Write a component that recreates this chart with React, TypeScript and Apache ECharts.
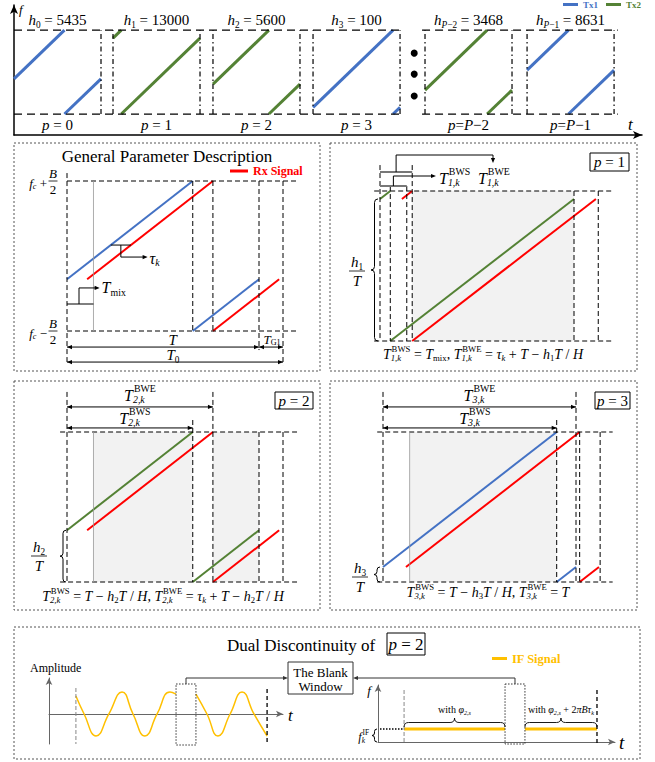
import React, { useEffect, useRef } from "react";
import * as echarts from "echarts";

const BLUE = "#4472C4";
const GREEN = "#548235";
const RED = "#FF0000";
const GOLD = "#FFC000";
const SERIF = "Liberation Serif, Times New Roman, serif";

// ---------------- data ----------------
// overview: P frames
const frameSub = ["0", "1", "2", "3", "P−2", "P−1"];
const frameH = [5435, 13000, 5600, 100, 3468, 8631];
const frameStart = [0, 1.138, 2.287, 3.437, 4.724, 5.897]; // in units of T
const frameStartFreq = [0.42, 0.905, 0.357, 0.08, 0.286, 0.524]; // fraction of B
const frameTx = ["Tx1", "Tx2", "Tx2", "Tx1", "Tx2", "Tx1"];

// detail panels: General, p=1, p=2, p=3
const panelStartFreq = [0.345, 0.947, 0.345, 0.1];
const panelDelay = [0.105, 0.113, 0.105, 0.119];
const panelTx = ["Tx1", "Tx2", "Tx2", "Tx1"];
const T_MIX = 0.138;
const T_0 = 1.125;

// dual discontinuity panel
const sineT1 = [1.15, 1.5, 2.01, 2.56, 3.12, 3.59, 4.1, 4.62, 5.17, 5.43];
const sineA1 = [0.82, 0, -1, 0, 1, 0, -1, 0, 1, 0.9];
const sineT2 = [6.28, 6.75, 7.22, 7.74, 8.25, 8.76, 9.32];
const sineA2 = [0.9, 0, -1, 0, 1, 0, -1];
const blankWinSine = [5.43, 6.28];
const ifSegStart = [1.1, 6.2];
const ifSegEnd = [5.36, 9.24];
const ifLevel = 1;
const blankWinIF = [5.36, 6.2];

// ---------------- layout ----------------
const GRIDS = [
  { left: 14, top: 5, width: 628, height: 130, x0: 0, x1: 7.218, y0: -0.25, y1: 1.3 },
  { left: 67, top: 181, width: 230.4, height: 150, x0: 0, x1: 1.2, y0: 0, y1: 1 },
  { left: 380, top: 191, width: 232.8, height: 150, x0: 0, x1: 1.2, y0: 0, y1: 1 },
  { left: 67, top: 432, width: 230.4, height: 150, x0: 0, x1: 1.2, y0: 0, y1: 1 },
  { left: 383, top: 432, width: 231.6, height: 150, x0: 0, x1: 1.2, y0: 0, y1: 1 },
  { left: 49, top: 678, width: 234, height: 66, x0: 0, x1: 10, y0: -1.364, y1: 1.636 },
  { left: 378, top: 685, width: 237, height: 57, x0: 0, x1: 10, y0: 0, y1: 4.385 },
];
const X = (g: number, t: number) => {
  const G = GRIDS[g];
  return G.left + ((t - G.x0) / (G.x1 - G.x0)) * G.width;
};
const Y = (g: number, f: number) => {
  const G = GRIDS[g];
  return G.top + ((G.y1 - f) / (G.y1 - G.y0)) * G.height;
};

let _ctx: any = null;
function tw(s: string, sz: number, it?: boolean, bd?: boolean) {
  if (!_ctx) _ctx = document.createElement("canvas").getContext("2d");
  _ctx.font = `${it ? "italic " : ""}${bd ? "bold " : ""}${sz}px "Liberation Serif", serif`;
  return _ctx.measureText(s).width;
}

const TX = (x: number, y: number, s: string, sz: number, it = false, bd = false, fill = "#000", align = "left") => ({
  type: "text",
  z: 6,
  x,
  y,
  silent: true,
  style: {
    text: s,
    fontSize: sz,
    fontFamily: SERIF,
    fontStyle: it ? "italic" : "normal",
    fontWeight: bd ? "bold" : "normal",
    fill,
    textAlign: align,
    textVerticalAlign: "middle",
    align,
    verticalAlign: "middle",
  },
});
const L = (x1: number, y1: number, x2: number, y2: number, stroke = "#000", lw = 1, dash?: number[]) => ({
  type: "line",
  z: 5,
  silent: true,
  shape: { x1, y1, x2, y2 },
  style: { stroke, lineWidth: lw, lineDash: dash || null },
});
const AH = (x: number, y: number, dir: string, s = 5, fill = "#000") => {
  const h = s * 0.42;
  let pts: number[][] = [];
  if (dir === "r") pts = [[x, y], [x - s, y - h], [x - s, y + h]];
  if (dir === "l") pts = [[x, y], [x + s, y - h], [x + s, y + h]];
  if (dir === "u") pts = [[x, y], [x - h, y + s], [x + h, y + s]];
  if (dir === "d") pts = [[x, y], [x - h, y - s], [x + h, y - s]];
  return { type: "polygon", z: 6, silent: true, shape: { points: pts }, style: { fill } };
};
const RECT = (x1: number, y1: number, x2: number, y2: number, stroke = "#000", lw = 1, dash?: number[], z = 5) => ({
  type: "rect",
  z,
  silent: true,
  shape: { x: x1, y: y1, width: x2 - x1, height: y2 - y1 },
  style: { fill: "transparent", stroke, lineWidth: lw, lineDash: dash || null },
});

const I = (s: string) => ({ s, st: "i" });
const R = (s: string) => ({ s, st: "r" });
const Sb = (s: string, st = "i") => ({ s, st, p: "sub" });
const Sp = (s: string, st = "r") => ({ s, st, p: "sup", k: true });

function mathRow(x: number, y: number, toks: any[], size: number, align = "center", color = "#000") {
  const placed: any[] = [];
  let cur = 0,
    pend = 0;
  for (const tk of toks) {
    const p = tk.p || "n";
    const fs = p === "n" ? size : +(size * 0.62).toFixed(1);
    const it = tk.st === "i", bd = tk.st === "b";
    const w = tw(tk.s, fs, it, bd);
    const dy = p === "sub" ? size * 0.3 : p === "sup" ? -size * 0.38 : 0;
    const dx = p === "sup" ? size * 0.06 : 0;
    placed.push({ x: cur + dx, dy, fs, it, bd, s: tk.s });
    if (tk.k) pend = Math.max(pend, w + dx);
    else {
      cur += Math.max(w, pend);
      pend = 0;
    }
  }
  const total = cur + pend;
  const x0 = align === "left" ? x : align === "center" ? x - total / 2 : x - total;
  return placed.map((p) => TX(x0 + p.x, y + p.dy, p.s, p.fs, p.it, p.bd, color, "left"));
}

function frac(E: any[], cx: number, cy: number, num: any[], den: any[], size: number, barW: number) {
  E.push(...mathRow(cx, cy - size * 0.6, num, size, "center"));
  E.push(...mathRow(cx, cy + size * 0.65, den, size, "center"));
  E.push(L(cx - barW / 2, cy, cx + barW / 2, cy, "#000", 0.8));
}

// brace: u along length (0..Ln), v across (0 = arms, W = tip)
function brace(E: any[], map: (u: number, v: number) => number[], Ln: number, W: number, lw = 1) {
  const h = W / 2;
  const r = Math.min(h, Ln / 4);
  const q = (a: number[], c: number[], b: number[]) => {
    const A = map(a[0], a[1]), C = map(c[0], c[1]), B = map(b[0], b[1]);
    E.push({
      type: "bezierCurve",
      z: 5,
      silent: true,
      shape: { x1: A[0], y1: A[1], cpx1: C[0], cpy1: C[1], x2: B[0], y2: B[1] },
      style: { stroke: "#000", fill: null, lineWidth: lw },
    });
  };
  const s = (a: number[], b: number[]) => {
    const A = map(a[0], a[1]), B = map(b[0], b[1]);
    E.push(L(A[0], A[1], B[0], B[1], "#000", lw));
  };
  const m = Ln / 2;
  q([0, 0], [0, h], [r, h]);
  s([r, h], [m - r, h]);
  q([m - r, h], [m, h], [m, W]);
  q([m, W], [m, h], [m + r, h]);
  s([m + r, h], [Ln - r, h]);
  q([Ln - r, h], [Ln, h], [Ln, 0]);
}
const vBrace = (E: any[], xArms: number, xTip: number, ya: number, yb: number) =>
  brace(E, (u, v) => [xArms - v, ya + u], yb - ya, xArms - xTip);
const hBraceUp = (E: any[], xa: number, xb: number, yArms: number, yTip: number) =>
  brace(E, (u, v) => [xa + u, yArms - v], xb - xa, yArms - yTip, 0.9);

function buildOption() {
  const E: any[] = [];
  const series: any[] = [];
  const txColor: any = { Tx1: BLUE, Tx2: GREEN };

  const addLine = (g: number, name: string, color: string, width: number, data: any[], smooth: any = false) =>
    series.push({
      type: "line",
      name,
      xAxisIndex: g,
      yAxisIndex: g,
      data,
      symbol: "none",
      showSymbol: false,
      smooth,
      lineStyle: { color, width },
      itemStyle: { color },
      z: 3,
      silent: true,
      clip: false,
      animation: false,
    });
  const chirp = (g: number, name: string, color: string, width: number, t0: number, f0: number) => {
    const tw0 = t0 + 1 - f0;
    addLine(g, name, color, width, [[t0, f0], [tw0, 1]]);
    addLine(g, name, color, width, [[tw0, 0], [t0 + 1, f0]]);
  };

  frameStart.forEach((s, i) => chirp(0, frameTx[i], txColor[frameTx[i]], 3, s, frameStartFreq[i]));
  for (let i = 0; i < 4; i++) {
    chirp(i + 1, panelTx[i], txColor[panelTx[i]], 2, 0, panelStartFreq[i]);
    chirp(i + 1, "Rx Signal", RED, 2, panelDelay[i], panelStartFreq[i]);
  }
  addLine(5, "IF Signal", GOLD, 1.5, sineT1.map((t, i) => [t, sineA1[i]]), 0.5);
  addLine(5, "IF Signal", GOLD, 1.5, sineT2.map((t, i) => [t, sineA2[i]]), 0.5);
  ifSegStart.forEach((s, i) => addLine(6, "IF Signal", GOLD, 3, [[s, ifLevel], [ifSegEnd[i], ifLevel]]));

  const axisShow = [true, false, false, false, false, true, true];
  const axColor = ["#000", "#000", "#000", "#000", "#000", "#666", "#666"];
  const axW = [1.5, 1, 1, 1, 1, 1, 1];
  const axSym = [[6, 9], [5, 7], [5, 7], [5, 7], [5, 7], [5, 7], [5, 7]];
  const xAxis = GRIDS.map((G, i) => ({
    type: "value",
    gridIndex: i,
    min: G.x0,
    max: G.x1,
    show: axisShow[i],
    axisLine: { show: true, onZero: i === 5, symbol: ["none", "arrow"], symbolSize: axSym[i], lineStyle: { color: axColor[i], width: axW[i] } },
    axisTick: { show: false },
    axisLabel: { show: false },
    splitLine: { show: false },
  }));
  const yAxis = GRIDS.map((G, i) => ({
    type: "value",
    gridIndex: i,
    min: G.y0,
    max: G.y1,
    show: axisShow[i],
    axisLine: { show: true, onZero: false, symbol: ["none", "arrow"], symbolSize: axSym[i], lineStyle: { color: axColor[i], width: axW[i] } },
    axisTick: { show: false },
    axisLabel: { show: false },
    splitLine: { show: false },
  }));
  const grid = GRIDS.map((G) => ({ left: G.left, top: G.top, width: G.width, height: G.height, containLabel: false }));

  // ---------- overview panel ----------
  const TD = [8, 5];
  for (const f of [0, 1]) {
    E.push(L(X(0, 0), Y(0, f), X(0, 4.47), Y(0, f), "#000", 1.2, TD));
    E.push(L(X(0, 4.69), Y(0, f), X(0, 6.94), Y(0, f), "#000", 1.2, TD));
  }
  frameStart.forEach((s, i) => {
    if (i > 0) E.push(L(X(0, s), Y(0, 0), X(0, s), Y(0, 1), "#000", 1.2, [5, 3, 1.5, 3]));
    E.push(L(X(0, s + 1), Y(0, 0), X(0, s + 1), Y(0, 1), "#000", 1.2, [5, 3, 1.5, 3]));
    const cx = X(0, s + 0.5);
    const sub = frameSub[i];
    const isP = sub.startsWith("P");
    const subToks = isP ? [Sb("P", "i"), Sb(sub.slice(1), "r")] : [Sb(sub, "r")];
    E.push(...mathRow(cx, 20, [I("h"), ...subToks, R(" = " + frameH[i])], 15));
    const pt = isP ? [I("p"), R("="), I("P"), R(sub.slice(1))] : [I("p"), R(" = " + sub)];
    E.push(...mathRow(cx, 125, pt, 15));
  });
  [0.726, 0.476, 0.214].forEach((f) =>
    E.push({ type: "circle", z: 5, silent: true, shape: { cx: X(0, 4.6), cy: Y(0, f), r: 3.5 }, style: { fill: "#000" } })
  );
  E.push(TX(19, 9, "f", 13, true));
  E.push(TX(628, 124, "t", 17, true));

  // ---------- panel boxes ----------
  const PB = [2, 2];
  E.push(RECT(14, 143, 320, 371, "#555", 1, PB));
  E.push(RECT(330, 143, 637, 371, "#555", 1, PB));
  E.push(RECT(14, 381, 320, 610, "#555", 1, PB));
  E.push(RECT(330, 381, 637, 610, "#555", 1, PB));
  E.push(RECT(14, 627, 640, 759, "#555", 1, PB));

  const DASH = [5, 3];
  const vd = (g: number, t: number, fa: number, fb: number) => L(X(g, t), Y(g, fa), X(g, t), Y(g, fb), "#000", 1, DASH);
  const hd = (g: number, f: number, ta: number, tb: number) => L(X(g, ta), Y(g, f), X(g, tb), Y(g, f), "#000", 1, DASH);
  const gv = (g: number, t: number, fa: number, fb: number) => L(X(g, t), Y(g, fa), X(g, t), Y(g, fb), "#999", 0.8);
  const shade = (g: number, ta: number, tb: number) => ({
    type: "rect",
    z: 1,
    silent: true,
    shape: { x: X(g, ta), y: Y(g, 1), width: X(g, tb) - X(g, ta), height: Y(g, 0) - Y(g, 1) },
    style: { fill: "#F2F2F2" },
  });
  const dbl = (xa: number, xb: number, y: number) => [L(xa, y, xb, y, "#000", 1), AH(xa, y, "l"), AH(xb, y, "r")];
  const pbox = (x1: number, y1: number, x2: number, y2: number, n: string, size = 15) => {
    E.push(RECT(x1, y1, x2, y2, "#000", 1));
    E.push(...mathRow((x1 + x2) / 2, (y1 + y2) / 2, [I("p"), R(" = " + n)], size));
  };
  const TBW = (kind: string, n: string) => [I("T"), Sp(kind), Sb(n + ",k")];

  // ---------- General ----------
  {
    const g = 1, f0 = panelStartFreq[0], tau = panelDelay[0], w = 1 - f0, rw = w + tau;
    E.push(hd(g, 1, 0, 1.198), hd(g, 0, 0, 1.198), vd(g, 0, 1.053, -0.227), gv(g, T_MIX, 1, 0));
    E.push(vd(g, w, 1, 0), vd(g, rw, 1, 0), vd(g, 1, 1, -0.127), vd(g, T_0, 1, -0.227));
    E.push(...dbl(X(g, 0), X(g, 1), Y(g, -0.107)), ...dbl(X(g, 1), X(g, T_0), Y(g, -0.107)));
    E.push(...dbl(X(g, 0), X(g, T_0), Y(g, -0.207)));
    const fT = 0.573, tb = fT - f0, yl = fT - 0.08;
    E.push(L(X(g, tb), Y(g, fT), X(g, tb + tau), Y(g, fT)));
    E.push(L(X(g, tb + tau / 2), Y(g, fT), X(g, tb + tau / 2), Y(g, yl)));
    E.push(L(X(g, tb + tau / 2), Y(g, yl), X(g, 0.42) - 3, Y(g, yl)), AH(X(g, 0.42), Y(g, yl), "r"));
    E.push(...mathRow(X(g, 0.43), Y(g, yl) + 1, [I("τ"), Sb("k")], 16, "left"));
    E.push(L(X(g, 0), Y(g, 0.18), X(g, T_MIX), Y(g, 0.18)));
    E.push(L(X(g, 0.0625), Y(g, 0.18), X(g, 0.0625), Y(g, 0.287)));
    E.push(L(X(g, 0.0625), Y(g, 0.287), X(g, 0.17) - 3, Y(g, 0.287)), AH(X(g, 0.17), Y(g, 0.287), "r"));
    E.push(...mathRow(X(g, 0.18), Y(g, 0.287), [I("T"), Sb("mix", "r")], 16, "left"));
    E.push(TX(167, 156, "General Parameter Description", 17, false, false, "#000", "center"));
    E.push(...mathRow(47, 183, [I("f"), Sb("c"), R(" +")], 13, "right"));
    frac(E, 53, 181, [I("B")], [R("2")], 13, 9);
    E.push(...mathRow(47, 333, [I("f"), Sb("c"), R(" −")], 13, "right"));
    frac(E, 53, 331, [I("B")], [R("2")], 13, 9);
    E.push(...mathRow(X(g, 0.55), 340, [I("T")], 15));
    E.push(...mathRow(272, 339, [I("T"), Sb("G1", "r")], 13));
    E.push(...mathRow(173, 355, [I("T"), Sb("0", "r")], 15));
  }

  // ---------- p = 1 ----------
  {
    const g = 2, f0 = panelStartFreq[1], tau = panelDelay[1], w = 1 - f0, rw = w + tau;
    E.push(shade(g, rw, 1));
    E.push(hd(g, 1, -0.03, 1.196), hd(g, 0, -0.03, 1.196), vd(g, 0, 1.173, 0), vd(g, w, 1.033, 0));
    E.push(vd(g, T_MIX, 1.033, 0), vd(g, rw, 1.173, 0), vd(g, 1, 1, 0), vd(g, T_0, 1, 0));
    const yBWE = 172, yBWS = 186;
    E.push(L(X(g, 0), yBWE, X(g, rw), yBWE, "#777", 2), L(X(g, 0), yBWS, X(g, T_MIX), yBWS, "#777", 2));
    const xe = X(g, rw / 2), xs = X(g, T_MIX / 2);
    E.push(L(xe, yBWE, xe, 155), L(xe, 155, 493, 155), L(493, 155, 493, 159), AH(493, 163, "d", 5));
    E.push(L(xs, yBWS, xs, 176), L(xs, 176, 432, 176), AH(436, 176, "r", 5));
    E.push(...mathRow(439, 178, TBW("BWS", "1"), 16, "left"));
    E.push(...mathRow(478, 178, TBW("BWE", "1"), 16, "left"));
    vBrace(E, 378, 371, Y(g, f0), Y(g, 0));
    frac(E, 357, 271, [I("h"), Sb("1", "r")], [I("T")], 15, 16);
    E.push(...mathRow(483, 354, [...TBW("BWS", "1"), R(" = "), I("T"), Sb("mix", "r"), R(", "), ...TBW("BWE", "1"), R(" = "), I("τ"), Sb("k"), R(" + "), I("T"), R(" − "), I("h"), Sb("1", "r"), I("T"), R(" / "), I("H")], 14));
    pbox(590, 153, 629, 171, "1");
  }

  // ---------- p = 2 ----------
  {
    const g = 3, f0 = panelStartFreq[2], tau = panelDelay[2], w = 1 - f0, rw = w + tau;
    E.push(shade(g, T_MIX, w), shade(g, rw, 1));
    E.push(hd(g, 1, -0.036, 1.198), hd(g, 0, -0.036, 1.198), vd(g, 0, 1.267, 0), gv(g, T_MIX, 1, 0));
    E.push(vd(g, w, 1.08, 0), vd(g, rw, 1.267, 0), vd(g, 1, 1, 0), vd(g, T_0, 1, 0));
    E.push(...dbl(X(g, 0), X(g, rw), Y(g, 1.167)), ...dbl(X(g, 0), X(g, w), Y(g, 1.027)));
    E.push(...mathRow((X(g, 0) + X(g, rw)) / 2, 395, TBW("BWE", "2"), 16));
    E.push(...mathRow((X(g, 0) + X(g, w)) / 2 + 5, 418, TBW("BWS", "2"), 16));
    vBrace(E, 66, 60, Y(g, f0), Y(g, 0));
    frac(E, 39, 556, [I("h"), Sb("2", "r")], [I("T")], 15, 16);
    E.push(...mathRow(163, 596, [...TBW("BWS", "2"), R(" = "), I("T"), R(" − "), I("h"), Sb("2", "r"), I("T"), R(" / "), I("H"), R(", "), ...TBW("BWE", "2"), R(" = "), I("τ"), Sb("k"), R(" + "), I("T"), R(" − "), I("h"), Sb("2", "r"), I("T"), R(" / "), I("H")], 14));
    pbox(275, 392, 313, 409, "2");
  }

  // ---------- p = 3 ----------
  {
    const g = 4, f0 = panelStartFreq[3], tau = panelDelay[3], w = 1 - f0, rw = w + tau;
    E.push(shade(g, T_MIX, w));
    E.push(hd(g, 1, -0.03, 1.19), hd(g, 0, -0.03, 1.19), vd(g, 0, 1.267, 0), gv(g, T_MIX, 1, 0));
    E.push(vd(g, w, 1.08, 0), vd(g, 1, 1.267, 0), vd(g, rw, 1, 0), vd(g, T_0, 1, 0));
    E.push(...dbl(X(g, 0), X(g, 1), Y(g, 1.167)), ...dbl(X(g, 0), X(g, w), Y(g, 1.027)));
    E.push(...mathRow((X(g, 0) + X(g, 1)) / 2, 395, TBW("BWE", "3"), 16));
    E.push(...mathRow((X(g, 0) + X(g, w)) / 2 + 5, 418, TBW("BWS", "3"), 16));
    vBrace(E, 380, 374, Y(g, f0), Y(g, 0));
    frac(E, 360, 577, [I("h"), Sb("3", "r")], [I("T")], 15, 16);
    E.push(...mathRow(488, 592, [...TBW("BWS", "3"), R(" = "), I("T"), R(" − "), I("h"), Sb("3", "r"), I("T"), R(" / "), I("H"), R(", "), ...TBW("BWE", "3"), R(" = "), I("T")], 14));
    pbox(595, 392, 630, 409, "3");
  }

  // ---------- dual discontinuity ----------
  {
    E.push(TX(227, 645, "Dual Discontinuity of", 17));
    E.push(RECT(387, 633, 425, 655, "#000", 1));
    E.push(...mathRow(406, 644, [I("p"), R(" = 2")], 17));
    E.push(TX(30, 668, "Amplitude", 12));
    E.push(TX(288, 715, "t", 17, true));
    const g = 5;
    const wx1 = X(g, blankWinSine[0]), wx2 = X(g, blankWinSine[1]);
    E.push(RECT(wx1, 684, wx2, 745, "#333", 1, [1.5, 1.5]));
    E.push(L(X(g, sineT1[0]), 688, X(g, sineT1[0]), 744, "#888", 1, [4, 2]));
    E.push(L(X(g, sineT2[sineT2.length - 1]), 689, X(g, sineT2[sineT2.length - 1]), 744, "#000", 1.3, [4, 3]));
    const cx1 = (wx1 + wx2) / 2;
    E.push(L(cx1, 684, cx1, 678, "#333"), L(cx1, 678, 284, 678, "#333"), AH(288, 678, "r", 5, "#333"));
    E.push(RECT(288, 662, 353, 694, "#333", 1));
    E.push(TX(320.5, 672, "The Blank", 13, false, false, "#000", "center"));
    E.push(TX(320.5, 686, "Window", 13, false, false, "#000", "center"));
    const h = 6;
    const ix1 = X(h, blankWinIF[0]), ix2 = X(h, blankWinIF[1]);
    E.push(RECT(ix1, 684, ix2, 744, "#333", 1, [1.5, 1.5]));
    const cx2 = (ix1 + ix2) / 2;
    E.push(L(cx2, 684, cx2, 678, "#333"), L(cx2, 678, 357, 678, "#333"), AH(353, 678, "l", 5, "#333"));
    E.push(TX(369, 690, "f", 13, true, false, "#000", "center"));
    E.push(TX(619, 742, "t", 19, true));
    E.push(L(X(h, ifSegStart[0]), 690, X(h, ifSegStart[0]), 744, "#888", 1, [4, 2]));
    E.push(L(X(h, ifSegEnd[1]), 690, X(h, ifSegEnd[1]), 744, "#000", 1.3, [4, 3]));
    E.push(L(X(h, 0) + 2, Y(h, ifLevel), X(h, ifSegStart[0]), Y(h, ifLevel), "#000", 1.6, [1.5, 1.5]));
    vBrace(E, 377, 372, Y(h, ifLevel), Y(h, 0));
    E.push(...mathRow(369, 737, [I("f"), Sp("IF"), Sb("k")], 12, "right"));
    hBraceUp(E, X(h, ifSegStart[0]), X(h, ifSegEnd[0]), 727, 718);
    hBraceUp(E, X(h, ifSegStart[1]), X(h, ifSegEnd[1]), 727, 718);
    E.push(...mathRow((X(h, ifSegStart[0]) + X(h, ifSegEnd[0])) / 2, 709, [R("with "), I("φ"), Sb("2,s")], 10));
    E.push(...mathRow((X(h, ifSegStart[1]) + X(h, ifSegEnd[1])) / 2, 709, [R("with "), I("φ"), Sb("2,s"), R(" + 2"), I("πBτ"), Sb("k")], 10));
  }

  const legendBase = {
    padding: 0,
    icon: "rect",
    itemHeight: 3,
    selectedMode: false,
    orient: "horizontal",
  };

  return {
    animation: false,
    backgroundColor: "#ffffff",
    grid,
    xAxis,
    yAxis,
    series,
    legend: [
      {
        ...legendBase,
        left: 563,
        top: 0,
        itemWidth: 15,
        itemGap: 8,
        data: [
          { name: "Tx1", textStyle: { color: BLUE } },
          { name: "Tx2", textStyle: { color: GREEN } },
        ],
        textStyle: { fontFamily: SERIF, fontWeight: "bold", fontSize: 9 },
      },
      {
        ...legendBase,
        left: 230,
        top: 165,
        itemWidth: 18,
        data: [{ name: "Rx Signal", textStyle: { color: RED } }],
        textStyle: { fontFamily: SERIF, fontWeight: "bold", fontSize: 12 },
      },
      {
        ...legendBase,
        left: 492,
        top: 652,
        itemWidth: 15,
        data: [{ name: "IF Signal", textStyle: { color: GOLD } }],
        textStyle: { fontFamily: SERIF, fontWeight: "bold", fontSize: 12.5 },
      },
    ],
    graphic: { elements: E },
  };
}

export default function App() {
  const ref = useRef<HTMLDivElement>(null);
  useEffect(() => {
    const chart = echarts.init(ref.current as HTMLDivElement, null, { renderer: "svg" });
    chart.setOption(buildOption() as any);
    return () => chart.dispose();
  }, []);
  return (
    <div
      ref={ref}
      style={{ position: "fixed", left: 0, top: 0, width: 655, height: 762, background: "#fff" }}
    />
  );
}
